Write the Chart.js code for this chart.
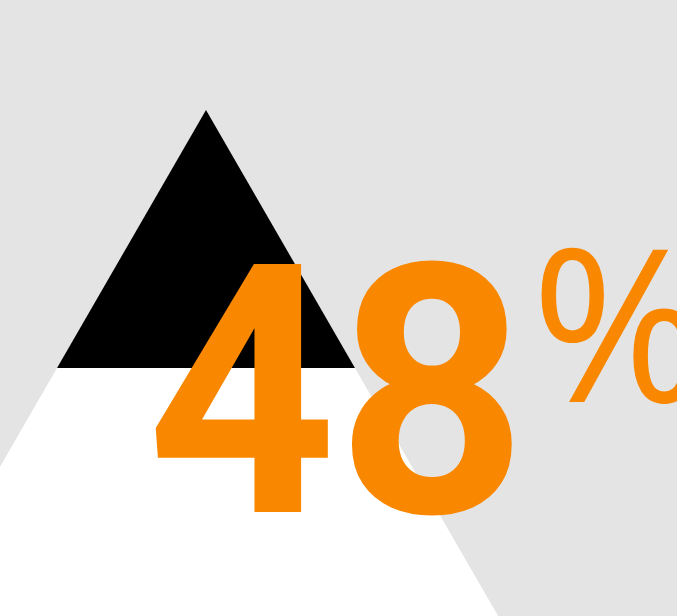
<!DOCTYPE html>
<html>
<head>
<meta charset="utf-8">
<script src="https://cdn.jsdelivr.net/npm/chart.js@4.4.1/dist/chart.umd.min.js"></script>
<style>
  html, body { margin: 0; padding: 0; background: #e4e4e4; }
  #wrap { width: 677px; height: 616px; position: relative; }
</style>
</head>
<body>
<div id="wrap"><canvas id="c" width="677" height="616"></canvas></div>
<script>
// ---- data ----
const valueLabels = ['48'];
const values = [48];
const unitLabels = ['%'];

// ---- geometry of the decorative triangle (in axis units) ----
const apex = { x: 206, y: 110 };
const bandBottom = 368;   // bottom of black tip
const baseY = 720;        // bottom of white body (beyond view)
const halfSlope = Math.tan(Math.PI / 6);

function halfWidth(y) { return (y - apex.y) * halfSlope; }

const blackTip = [
  { x: apex.x, y: apex.y },
  { x: apex.x + halfWidth(bandBottom), y: bandBottom },
  { x: apex.x - halfWidth(bandBottom), y: bandBottom },
  { x: apex.x, y: apex.y }
];
const whiteBody = [
  { x: apex.x - halfWidth(bandBottom), y: bandBottom },
  { x: apex.x + halfWidth(bandBottom), y: bandBottom },
  { x: apex.x + halfWidth(baseY), y: baseY },
  { x: apex.x - halfWidth(baseY), y: baseY },
  { x: apex.x - halfWidth(bandBottom), y: bandBottom }
];

const ORANGE = '#f98800';

const bgPlugin = {
  id: 'bg',
  beforeDraw(chart) {
    const ctx = chart.ctx;
    ctx.save();
    ctx.fillStyle = '#e4e4e4';
    ctx.fillRect(0, 0, chart.width, chart.height);
    ctx.restore();
  }
};

const textPlugin = {
  id: 'bigText',
  afterDatasetsDraw(chart) {
    const ctx = chart.ctx;
    const xs = chart.scales.x, ys = chart.scales.y;
    ctx.save();
    ctx.fillStyle = ORANGE;
    ctx.textAlign = 'left';
    ctx.textBaseline = 'alphabetic';
    // big number, slightly condensed
    ctx.save();
    ctx.translate(xs.getPixelForValue(146.5), ys.getPixelForValue(512));
    ctx.scale(0.95, 1);
    ctx.font = '700 349px Roboto';
    ctx.fillText(String(values[0]), 0, 0);
    ctx.restore();
    // unit sign
    ctx.font = '400 212px "Open Sans"';
    ctx.fillText(unitLabels[0], xs.getPixelForValue(531), ys.getPixelForValue(402));
    ctx.restore();
  }
};

new Chart(document.getElementById('c'), {
  type: 'scatter',
  data: {
    datasets: [
      {
        label: 'tip',
        data: blackTip,
        showLine: true,
        fill: 'shape',
        backgroundColor: '#000000',
        borderColor: '#000000',
        borderWidth: 0,
        pointRadius: 0,
        tension: 0
      },
      {
        label: 'body',
        data: whiteBody,
        showLine: true,
        fill: 'shape',
        backgroundColor: '#ffffff',
        borderColor: '#ffffff',
        borderWidth: 0,
        pointRadius: 0,
        tension: 0
      }
    ]
  },
  options: {
    responsive: false,
    animation: false,
    devicePixelRatio: 1,
    layout: { padding: 0 },
    plugins: { legend: { display: false }, tooltip: { enabled: false } },
    scales: {
      x: { type: 'linear', min: 0, max: 677, display: false },
      y: { type: 'linear', min: 0, max: 616, reverse: true, display: false }
    }
  },
  plugins: [bgPlugin, textPlugin]
});
</script>
</body>
</html>
